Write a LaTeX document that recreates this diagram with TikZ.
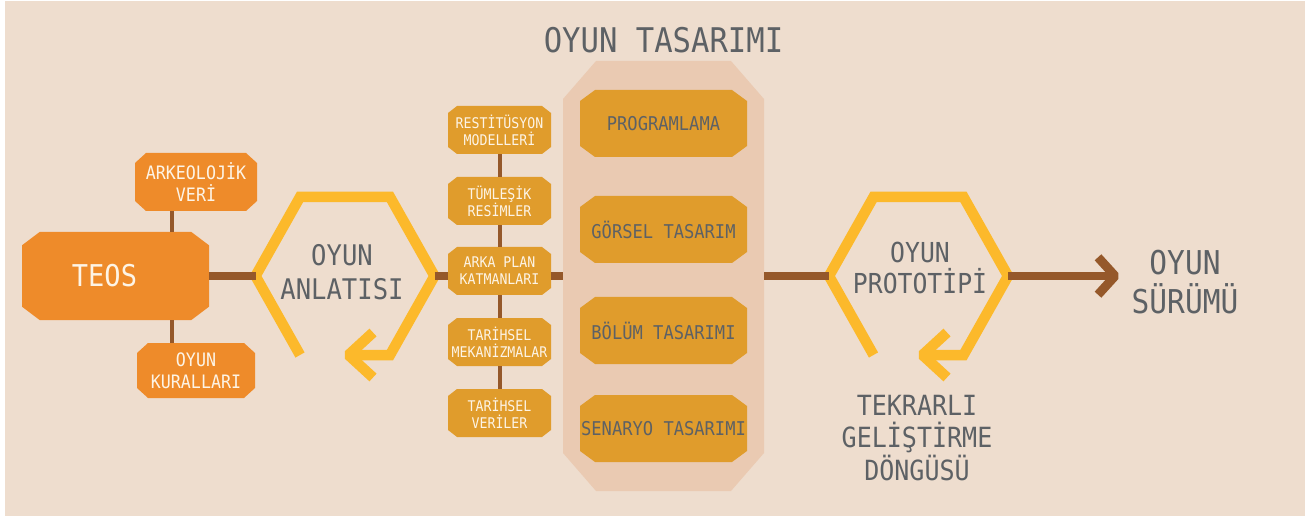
\documentclass[tikz,border=0pt]{standalone}
\usepackage{fontspec}
\setmainfont{DejaVu Sans Mono}[FakeStretch=0.9]

\definecolor{bgbeige}{HTML}{EEDDCE}
\definecolor{panelpeach}{HTML}{EACAB2}
\definecolor{teosorange}{HTML}{EE8B2A}
\definecolor{boxgold}{HTML}{E09C2C}
\definecolor{hexyellow}{HTML}{FCB92B}
\definecolor{linebrown}{HTML}{95582A}
\definecolor{graytext}{HTML}{5D6165}
\definecolor{creamtext}{HTML}{FDF4E6}

\tikzset{
  chambox/.style n args={3}{rectangle, inner sep=0pt, align=center, path picture={
    \fill[#1] ([xshift=#2]path picture bounding box.north west)
      -- ([xshift=-#2]path picture bounding box.north east)
      -- ([yshift=-#3]path picture bounding box.north east)
      -- ([yshift=#3]path picture bounding box.south east)
      -- ([xshift=-#2]path picture bounding box.south east)
      -- ([xshift=#2]path picture bounding box.south west)
      -- ([yshift=#3]path picture bounding box.south west)
      -- ([yshift=-#3]path picture bounding box.north west) -- cycle;}},
  teosbox/.style={chambox={teosorange}{17.6pt}{13.3pt}, text=creamtext,
    minimum width=187pt, minimum height=88pt, font=\fontsize{30}{36}\selectfont},
  sidebox/.style={chambox={teosorange}{11pt}{10pt}, text=creamtext,
    font=\fontsize{18.5}{22}\selectfont},
  smallbox/.style={chambox={boxgold}{9pt}{7pt}, text=creamtext,
    minimum width=103pt, minimum height=48pt, font=\fontsize{14.7}{17}\selectfont},
  bigbox/.style={chambox={boxgold}{15pt}{11pt}, text=graytext,
    minimum width=167pt, minimum height=67pt, font=\fontsize{19}{22}\selectfont},
  panelbox/.style={chambox={panelpeach}{33pt}{38pt},
    minimum width=201pt, minimum height=430pt},
  hexline/.style={draw=hexyellow, line width=10.5pt},
  hexchevron/.style={draw=hexyellow, line width=10.5pt, line join=bevel},
  mainline/.style={draw=linebrown, line width=7.6pt},
  brownchevron/.style={draw=linebrown, line width=9pt, line join=bevel},
  trunkline/.style={draw=linebrown, line width=4pt},
  graylabel/.style={text=graytext, align=center, inner sep=0pt}
}

\begin{document}
\begin{tikzpicture}[x=1pt,y=-1pt]
    \fill[white] (0,0) rectangle (1313,518);
    \fill[bgbeige] (5,1) rectangle (1305,516);
    \useasboundingbox (0,0) rectangle (1313,518);

    \node[graylabel, font=\fontsize{34}{40}\selectfont] (titel) at (663.5,40) {OYUN TASARIMI};

    \node[teosbox] (teos) at (115.5,276) {TEOS\hspace*{22pt}};
    \node[sidebox, minimum width=122pt, minimum height=58pt] (arkeo) at (196,182) {ARKEOLOJİK\\VERİ};
    \node[sidebox, minimum width=118pt, minimum height=55pt] (kural) at (196,370.5) {OYUN\\KURALLARI};
    \coordinate (trunkx) at (172,0);
    \draw[trunkline] (arkeo.south -| trunkx) -- (teos.north -| trunkx);
    \draw[trunkline] (teos.south -| trunkx) -- (kural.north -| trunkx);

    \coordinate (anlahex) at (345,276);
    \node[graylabel, font=\fontsize{28.4}{34}\selectfont] (anla) at (342,272) {OYUN\\ANLATISI};
    \draw[hexline] (anlahex) ++(-45,79) -- ++(-44.5,-79) -- ++(44.5,-79) -- ++(90,0)
        -- ++(44.5,79) -- ++(-44.5,79) -- ++(-41.5,0);
    \draw[hexchevron] ([shift={(28,56.5)}]anlahex) -- ([shift={(3.5,79)}]anlahex) -- ([shift={(28,101.5)}]anlahex);

    \node[smallbox] (resti) at (499.5,130) {RESTİTÜSYON\\MODELLERİ};
    \node[smallbox] (tumle) at (499.5,201) {TÜMLEŞİK\\RESİMLER};
    \node[smallbox] (arka) at (499.5,271) {ARKA PLAN\\KATMANLARI};
    \node[smallbox] (mekan) at (499.5,342) {TARİHSEL\\MEKANİZMALAR};
    \node[smallbox] (veri) at (499.5,413) {TARİHSEL\\VERİLER};
    \draw[trunkline] (resti.south) -- (tumle.north);
    \draw[trunkline] (tumle.south) -- (arka.north);
    \draw[trunkline] (arka.south) -- (mekan.north);
    \draw[trunkline] (mekan.south) -- (veri.north);

    \node[panelbox] (panel) at (663.5,276) {};
    \node[bigbox] (prog) at (663.5,123.5) {PROGRAMLAMA};
    \node[bigbox] (gorsel) at (663.5,229.5) {GÖRSEL TASARIM};
    \node[bigbox] (bolum) at (663.5,330.5) {BÖLÜM TASARIMI};
    \node[bigbox] (senaryo) at (663.5,428.5) {SENARYO TASARIMI};

    \coordinate (protohex) at (918.5,276);
    \node[graylabel, font=\fontsize{27.5}{31}\selectfont] (proto) at (920,267.5) {OYUN\\PROTOTİPİ};
    \draw[hexline] (protohex) ++(-45,79) -- ++(-44.5,-79) -- ++(44.5,-79) -- ++(90,0)
        -- ++(44.5,79) -- ++(-44.5,79) -- ++(-41,0);
    \draw[hexchevron] ([shift={(28.5,56.5)}]protohex) -- ([shift={(4,79)}]protohex) -- ([shift={(28.5,101.5)}]protohex);
    \node[graylabel, font=\fontsize{27.8}{32.5}\selectfont] (tekrar) at (917,438) {TEKRARLI\\GELİŞTİRME\\DÖNGÜSÜ};

    \coordinate (surumtip) at (1115,276);
    \node[graylabel, font=\fontsize{32.8}{39}\selectfont] (surum) at (1185,282.5) {OYUN\\SÜRÜMÜ};

    \draw[mainline] (teos.east) -- ([xshift=-89.5pt]anlahex);
    \draw[mainline] ([xshift=89.5pt]anlahex) -- (arka.west |- anlahex);
    \draw[mainline] (arka.east |- anlahex) -- (panel.west |- anlahex);
    \draw[mainline] (panel.east |- protohex) -- ([xshift=-89.5pt]protohex);
    \draw[mainline] ([xshift=89.5pt]protohex) -- (surumtip);
    \draw[brownchevron] ([shift={(-17,-18.7)}]surumtip) -- (surumtip) -- ([shift={(-17,18.7)}]surumtip);
\end{tikzpicture}
\end{document}
